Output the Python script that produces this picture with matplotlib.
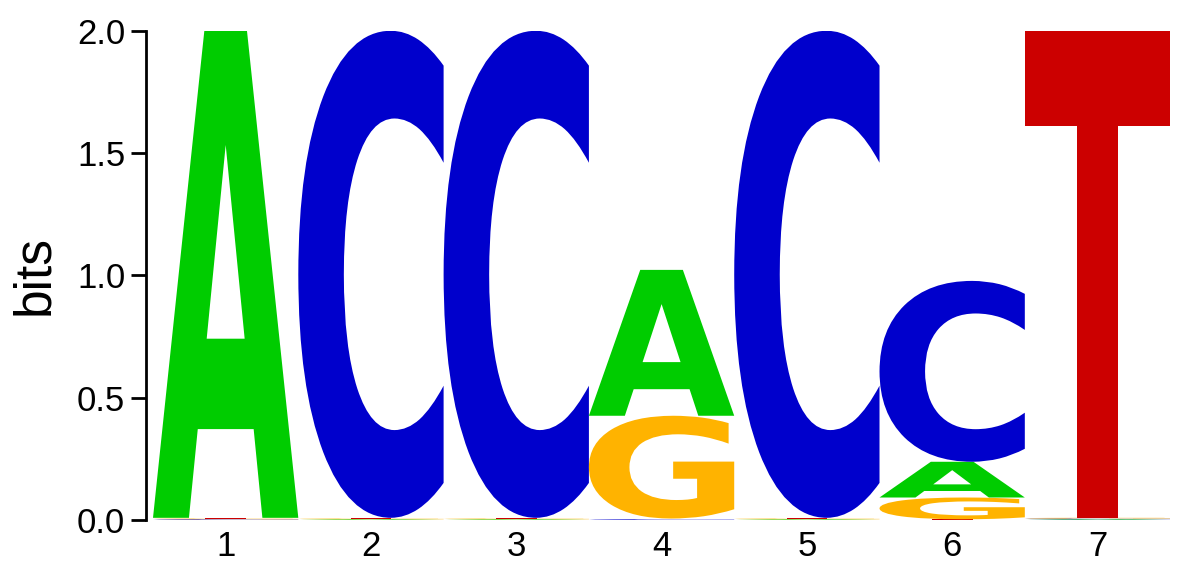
import matplotlib
matplotlib.use("Agg")
import matplotlib.pyplot as plt
import matplotlib.transforms as mtransforms
from matplotlib.textpath import TextPath
from matplotlib.patches import PathPatch
from matplotlib.font_manager import FontProperties

# sequence logo, bits per letter at each position
positions = [1, 2, 3, 4, 5, 6, 7]
bases = ["A", "C", "G", "T"]
heights_A = [1.990, 0.003, 0.003, 0.596, 0.003, 0.146, 0.003]
heights_C = [0.003, 1.990, 1.990, 0.003, 1.990, 0.739, 0.003]
heights_G = [0.003, 0.003, 0.003, 0.420, 0.003, 0.089, 0.003]
heights_T = [0.003, 0.003, 0.003, 0.003, 0.003, 0.003, 1.990]
colors = {"A": "#00cc00", "C": "#0000cc", "G": "#ffb300", "T": "#cc0000"}

plt.rcParams['font.family'] = ['Liberation Sans', 'DejaVu Sans']
glyph_font = FontProperties(family='DejaVu Sans', weight='bold')


def draw_letter(ax, ch, xc, y0, w, h, color):
    tp = TextPath((0, 0), ch, size=1, prop=glyph_font)
    bb = tp.get_extents()
    tr = (mtransforms.Affine2D()
          .translate(-bb.x0, -bb.y0)
          .scale(w / bb.width, h / bb.height)
          .translate(xc - w / 2, y0))
    ax.add_patch(PathPatch(tr.transform_path(tp), fc=color, ec='none', lw=0))


fig = plt.figure(figsize=(11.94, 5.65), dpi=100)
ax = fig.add_axes([0.1223, 0.0796, 0.98 - 0.1223, 0.9460 - 0.0796])

table = {"A": heights_A, "C": heights_C, "G": heights_G, "T": heights_T}
for i, p in enumerate(positions):
    col = sorted(bases, key=lambda b: table[b][i])
    y = 0.0
    for b in col:
        h = table[b][i]
        draw_letter(ax, b, p, y, 1.0, h, colors[b])
        y += h

ax.set_xlim(0.452, 7.5)
ax.set_ylim(0, 2.0)
ax.set_xticks(positions)
ax.set_yticks([0, 0.5, 1.0, 1.5, 2.0])
ax.set_yticklabels(["0.0", "0.5", "1.0", "1.5", "2.0"])
ax.tick_params(axis='x', length=0, pad=7, labelsize=25)
ax.tick_params(axis='y', length=11, width=2, pad=4, labelsize=25)
for s in ['top', 'right', 'bottom']:
    ax.spines[s].set_visible(False)
ax.spines['left'].set_linewidth(2)
ax.spines['left'].set_bounds(0, 2.0)
ax.set_ylabel("bits", fontsize=37, labelpad=13)

fig.savefig("out.png", dpi=100)
